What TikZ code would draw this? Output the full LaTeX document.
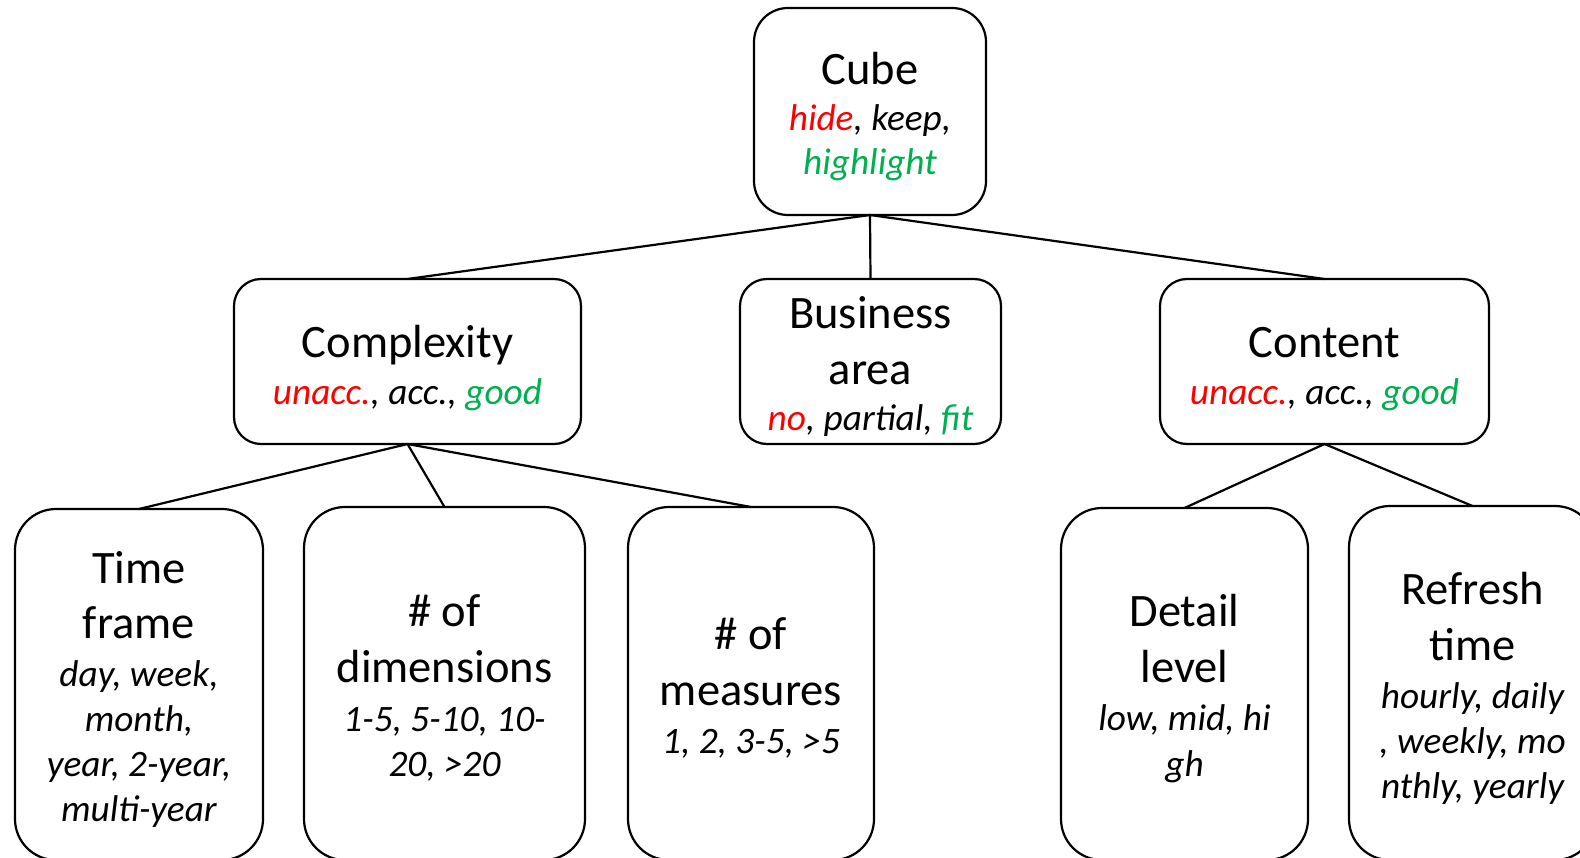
\documentclass[tikz,border=0pt]{standalone}
\usepackage{fontspec}
\setmainfont{Carlito}
\definecolor{lowred}{HTML}{FF0000}
\definecolor{highgreen}{HTML}{00B050}
% option line under a heading: smaller italic
\newcommand\optline[1]{{\fontsize{37.3}{45}\selectfont\itshape #1}}
\newcommand\lowval[1]{\textcolor{lowred}{#1}}
\newcommand\highval[1]{\textcolor{highgreen}{#1}}
% centred stack of lines whose baseline is that of the first line
\newcommand\stack[1]{\begin{tabular}[t]{@{}c@{}}#1\end{tabular}}
\begin{document}
\begin{tikzpicture}[x=1pt,y=-1pt,
  frame/.style={draw, line width=2.2pt, fill=white, inner sep=0pt, outer sep=0pt},
  topbox/.style={frame, rounded corners=34pt},
  midbox/.style={frame, rounded corners=27pt},
  leafbox/.style={frame, rounded corners=41pt},
  boxtext/.style={font=\fontsize{46.5}{55}\selectfont, inner sep=0pt, anchor=base},
  link/.style={line width=2.2pt}]
\useasboundingbox (0,0) rectangle (1580,858);
\clip (0,0) rectangle (1580,858);
\fill[white] (0,0) rectangle (1580,858);

% boxes
\node[topbox, minimum width=232pt, minimum height=207pt] (cube) at (870,111.5) {};
\node[midbox, minimum width=347pt, minimum height=165pt] (cplx) at (407.5,361.5) {};
\node[midbox, minimum width=261pt, minimum height=165pt] (biz) at (870.5,361.5) {};
\node[midbox, minimum width=329pt, minimum height=165pt] (cont) at (1324.5,361.5) {};
\node[leafbox, minimum width=248pt, minimum height=351pt] (time) at (139,684.5) {};
\node[leafbox, minimum width=281pt, minimum height=353pt] (dims) at (444.5,683.5) {};
\node[leafbox, minimum width=246pt, minimum height=353pt] (meas) at (751,683.5) {};
\node[leafbox, minimum width=247pt, minimum height=352pt] (det) at (1184.5,684) {};
\node[leafbox, minimum width=247pt, minimum height=354pt] (ref) at (1472.5,683) {};

% connectors
\draw[link] (cube.south) -- (cplx.north);
\draw[link] (cube.south) -- (biz.north);
\draw[link] (cube.south) -- (cont.north);
\draw[link] (cplx.south) -- (time.north);
\draw[link] (cplx.south) -- (dims.north);
\draw[link] (cplx.south) -- (meas.north);
\draw[link] (cont.south) -- (det.north);
\draw[link] (cont.south) -- (ref.north);

% labels
\node[boxtext] (cube-t) at (870,85) {\stack{Cube\\[-9pt]\optline{\lowval{hide}, keep,}\\[-11pt]\optline{\highval{highlight}}}};
\node[boxtext] (cplx-t) at (407.5,358) {\stack{Complexity\\[-8pt]\optline{\lowval{unacc.}, acc., \highval{good}}}};
\node[boxtext] (biz-t) at (870.5,329) {\stack{Business\\[1pt]area\\[-9pt]\optline{\lowval{no}, partial, \highval{fit}}}};
\node[boxtext] (cont-t) at (1324.5,358) {\stack{Content\\[-8pt]\optline{\lowval{unacc.}, acc., \highval{good}}}};
\node[boxtext] (time-t) at (139,583) {\stack{Time\\frame\\[-7pt]\optline{day, week,}\\[-10pt]\optline{month,}\\[-10pt]\optline{year, 2-year,}\\[-10pt]\optline{multi-year}}};
\node[boxtext] (dims-t) at (444.5,626) {\stack{\# of\\[1pt]dimensions\\[-6pt]\optline{1-5, 5-10, 10-}\\[-10pt]\optline{20, >20}}};
\node[boxtext] (meas-t) at (751,649) {\stack{\# of\\[1pt]measures\\[-7pt]\optline{1, 2, 3-5, >5}}};
\node[boxtext] (det-t) at (1184.5,626) {\stack{Detail\\[1pt]level\\[-7pt]\optline{low, mid, hi}\\[-9pt]\optline{gh}}};
\node[boxtext] (ref-t) at (1472.5,604) {\stack{Refresh\\[1pt]time\\[-7pt]\optline{hourly, daily}\\[-10pt]\optline{, weekly, mo}\\[-10pt]\optline{nthly, yearly}}};
\end{tikzpicture}
\end{document}
